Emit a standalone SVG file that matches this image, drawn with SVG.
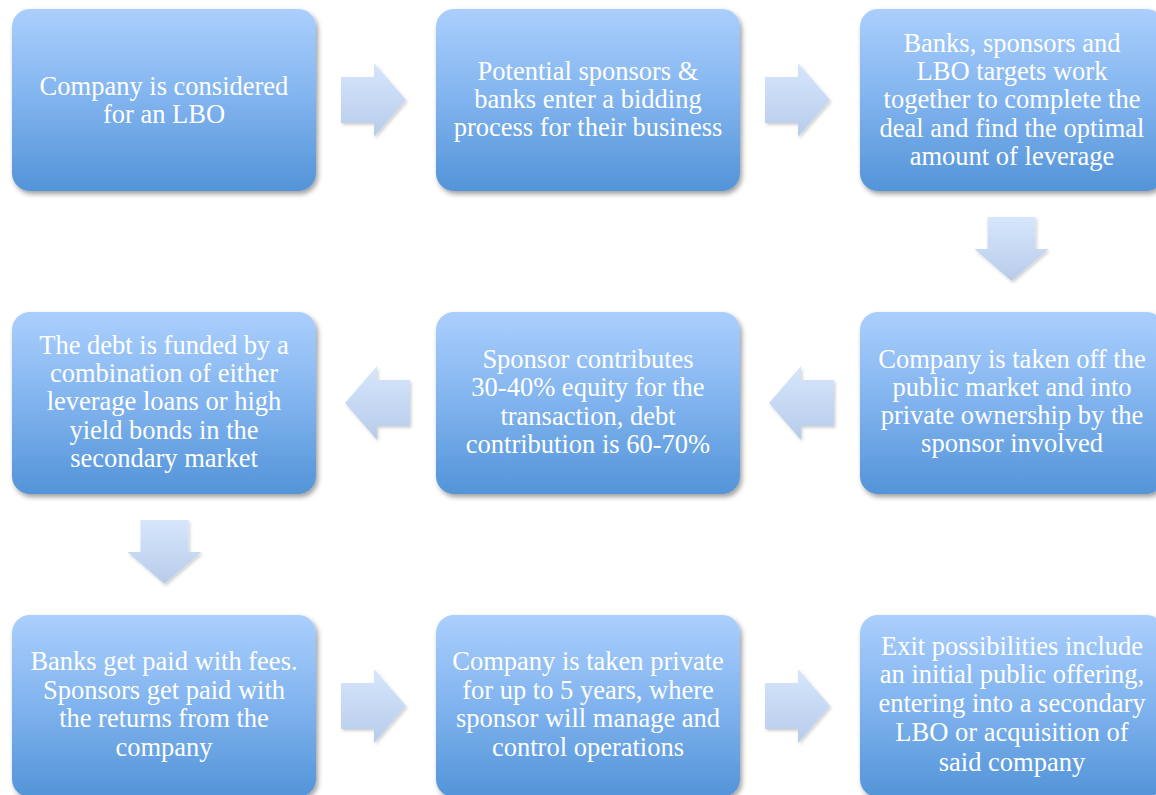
<svg xmlns="http://www.w3.org/2000/svg" width="1156" height="795" viewBox="0 0 1156 795">
  <defs>
    <linearGradient id="boxFill" x1="0" y1="0" x2="0" y2="1">
      <stop offset="0" stop-color="#abcffd"/>
      <stop offset="0.5" stop-color="#80b3ee"/>
      <stop offset="1" stop-color="#5394d8"/>
    </linearGradient>
    <linearGradient id="arrowFill" x1="0" y1="0" x2="0" y2="1">
      <stop offset="0" stop-color="#d6e6fc"/>
      <stop offset="1" stop-color="#b7cbea"/>
    </linearGradient>
    <filter id="boxShadow" x="-10%" y="-10%" width="120%" height="125%">
      <feDropShadow dx="2" dy="3" stdDeviation="2.5" flood-color="#000" flood-opacity="0.38"/>
    </filter>
    <filter id="arrowShadow" x="-20%" y="-20%" width="140%" height="140%">
      <feDropShadow dx="1.5" dy="2" stdDeviation="1.5" flood-color="#000" flood-opacity="0.18"/>
    </filter>
  </defs>
  <style>
    .box { fill: url(#boxFill); filter: url(#boxShadow); }
    .arrow { fill: url(#arrowFill); filter: url(#arrowShadow); }
    .label { font-family: "Liberation Serif", "Times New Roman", serif; font-size: 26.5px; fill: #ffffff; text-anchor: middle; }
  </style>

  <rect width="1156" height="795" fill="#ffffff"/>

  <!-- block arrows between steps -->
  <g id="connectors">
    <path class="arrow" d="M341,77 H374 V63 L406,100 L374,137 V123 H341 Z"/>
    <path class="arrow" d="M765,77 H798 V63 L830,100 L798,137 V123 H765 Z"/>
    <path class="arrow" d="M987.5,217 V249 H974.5 L1011.5,281 L1048.5,249 H1035.5 V217 Z"/>
    <path class="arrow" d="M834,380 H801 V366 L769,403 L801,440 V426 H834 Z"/>
    <path class="arrow" d="M410,380 H377 V366 L345,403 L377,440 V426 H410 Z"/>
    <path class="arrow" d="M140.5,520 V552 H127.5 L164.5,584 L201.5,552 H188.5 V520 Z"/>
    <path class="arrow" d="M341,683 H374 V669 L406,706 L374,743 V729 H341 Z"/>
    <path class="arrow" d="M765,683 H798 V669 L830,706 L798,743 V729 H765 Z"/>
  </g>

  <g id="step1">
    <rect class="box" x="12" y="9" width="304" height="182" rx="18"/>
    <text class="label" x="164" y="95">Company is considered</text>
    <text class="label" x="164" y="122.5">for an LBO</text>
  </g>

  <g id="step2">
    <rect class="box" x="436" y="9" width="304" height="182" rx="18"/>
    <text class="label" x="588" y="79.5">Potential sponsors &amp;</text>
    <text class="label" x="588" y="107.8">banks enter a bidding</text>
    <text class="label" x="588" y="136.1">process for their business</text>
  </g>

  <g id="step3">
    <rect class="box" x="860" y="9" width="304" height="182" rx="18"/>
    <text class="label" x="1012" y="51.5">Banks, sponsors and</text>
    <text class="label" x="1012" y="79.5">LBO targets work</text>
    <text class="label" x="1012" y="107.8">together to complete the</text>
    <text class="label" x="1012" y="136.5">deal and find the optimal</text>
    <text class="label" x="1012" y="165">amount of leverage</text>
  </g>

  <g id="step4">
    <rect class="box" x="860" y="312" width="304" height="182" rx="18"/>
    <text class="label" x="1012" y="368">Company is taken off the</text>
    <text class="label" x="1012" y="395.5">public market and into</text>
    <text class="label" x="1012" y="423.5">private ownership by the</text>
    <text class="label" x="1012" y="451.5">sponsor involved</text>
  </g>

  <g id="step5">
    <rect class="box" x="436" y="312" width="304" height="182" rx="18"/>
    <text class="label" x="588" y="368">Sponsor contributes</text>
    <text class="label" x="588" y="396">30-40% equity for the</text>
    <text class="label" x="588" y="424.5">transaction, debt</text>
    <text class="label" x="588" y="453">contribution is 60-70%</text>
  </g>

  <g id="step6">
    <rect class="box" x="12" y="312" width="304" height="182" rx="18"/>
    <text class="label" x="164" y="353.5">The debt is funded by a</text>
    <text class="label" x="164" y="381.5">combination of either</text>
    <text class="label" x="164" y="410">leverage loans or high</text>
    <text class="label" x="164" y="439">yield bonds in the</text>
    <text class="label" x="164" y="467">secondary market</text>
  </g>

  <g id="step7">
    <rect class="box" x="12" y="615" width="304" height="182" rx="18"/>
    <text class="label" x="164" y="670">Banks get paid with fees.</text>
    <text class="label" x="164" y="698.5">Sponsors get paid with</text>
    <text class="label" x="164" y="727">the returns from the</text>
    <text class="label" x="164" y="755.5">company</text>
  </g>

  <g id="step8">
    <rect class="box" x="436" y="615" width="304" height="182" rx="18"/>
    <text class="label" x="588" y="670">Company is taken private</text>
    <text class="label" x="588" y="698.5">for up to 5 years, where</text>
    <text class="label" x="588" y="727">sponsor will manage and</text>
    <text class="label" x="588" y="755.5">control operations</text>
  </g>

  <g id="step9">
    <rect class="box" x="860" y="615" width="304" height="182" rx="18"/>
    <text class="label" x="1012" y="655">Exit possibilities include</text>
    <text class="label" x="1012" y="683">an initial public offering,</text>
    <text class="label" x="1012" y="711.5">entering into a secondary</text>
    <text class="label" x="1012" y="741">LBO or acquisition of</text>
    <text class="label" x="1012" y="771">said company</text>
  </g>
</svg>
